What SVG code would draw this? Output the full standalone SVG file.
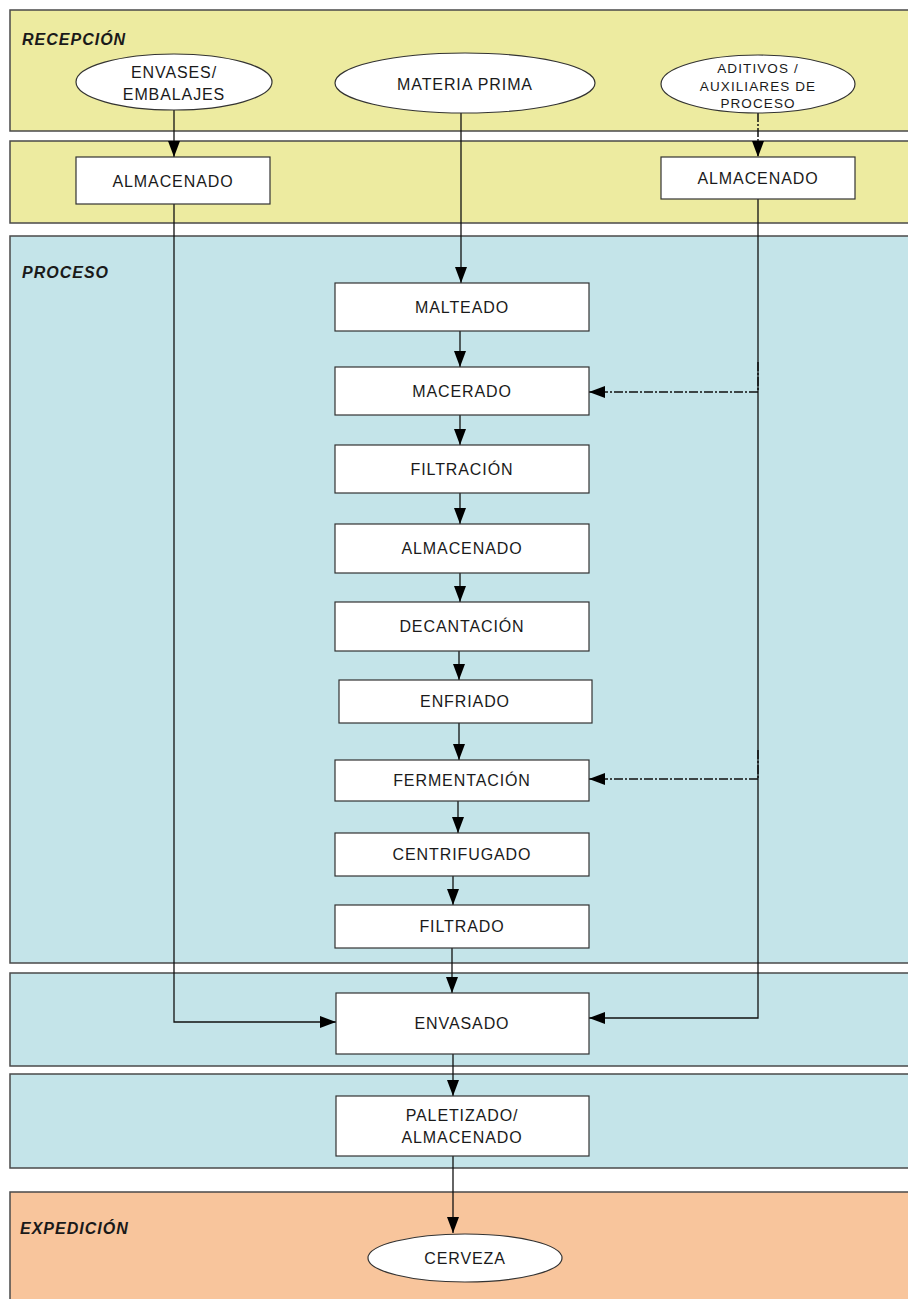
<svg xmlns="http://www.w3.org/2000/svg" width="908" height="1299" viewBox="0 0 908 1299">
<style>
.band{stroke:#4a4a4a;stroke-width:1.5}
.yel{fill:#edeba0}
.blu{fill:#c4e4e9}
.ora{fill:#f8c59c}
.sec{font-family:"Liberation Sans",Arial,sans-serif;font-size:16px;font-weight:bold;font-style:italic;letter-spacing:1px;fill:#1a1a1a}
.box{fill:#fff;stroke:#333;stroke-width:1.2}
.ell{fill:#fff;stroke:#333;stroke-width:1.2}
.t{font-family:"Liberation Sans",Arial,sans-serif;font-size:16px;letter-spacing:0.9px;fill:#1a1a1a;text-anchor:middle}
.ts{font-family:"Liberation Sans",Arial,sans-serif;font-size:13.5px;letter-spacing:1.1px;fill:#1a1a1a;text-anchor:middle}
.c{fill:none;stroke:#111;stroke-width:1.3}
.d{fill:none;stroke:#111;stroke-width:1.5;stroke-dasharray:9 2 2 2}
</style>
<defs>
<marker id="ah" markerUnits="userSpaceOnUse" markerWidth="16" markerHeight="12" refX="16" refY="6" orient="auto">
<path d="M0,0 L16,6 L0,12 z" fill="#000"/>
</marker>
</defs>
<rect width="908" height="1299" fill="#fff"/>
<g id="bands">
<rect class="band yel" x="10" y="10" width="905" height="121"/>
<rect class="band yel" x="10" y="141" width="905" height="82"/>
<rect class="band blu" x="10" y="236" width="905" height="727"/>
<rect class="band blu" x="10" y="973" width="905" height="93"/>
<rect class="band blu" x="10" y="1074" width="905" height="94"/>
<rect class="band ora" x="10" y="1192" width="905" height="120"/>
<text class="sec" x="22" y="45">RECEPCIÓN</text>
<text class="sec" x="22" y="278">PROCESO</text>
<text class="sec" x="20" y="1234">EXPEDICIÓN</text>
</g>
<g id="connectors">
<line class="c" x1="174" y1="110" x2="174" y2="157" marker-end="url(#ah)"/>
<line class="d" x1="758" y1="113" x2="758" y2="157" marker-end="url(#ah)"/>
<line class="c" x1="461" y1="113" x2="461" y2="283" marker-end="url(#ah)"/>
<line class="c" x1="460" y1="331" x2="460" y2="367" marker-end="url(#ah)"/>
<line class="c" x1="460" y1="415" x2="460" y2="445" marker-end="url(#ah)"/>
<line class="c" x1="460" y1="493" x2="460" y2="524" marker-end="url(#ah)"/>
<line class="c" x1="460" y1="573" x2="460" y2="602" marker-end="url(#ah)"/>
<line class="c" x1="459" y1="651" x2="459" y2="680" marker-end="url(#ah)"/>
<line class="c" x1="459" y1="723" x2="459" y2="760" marker-end="url(#ah)"/>
<line class="c" x1="458" y1="801" x2="458" y2="833" marker-end="url(#ah)"/>
<line class="c" x1="453" y1="876" x2="453" y2="905" marker-end="url(#ah)"/>
<line class="c" x1="452" y1="948" x2="452" y2="993" marker-end="url(#ah)"/>
<line class="c" x1="453" y1="1054" x2="453" y2="1096" marker-end="url(#ah)"/>
<line class="c" x1="453" y1="1156" x2="453" y2="1233" marker-end="url(#ah)"/>
<polyline class="c" points="174,204 174,1022 336,1022" marker-end="url(#ah)"/>
<polyline class="c" points="758,199 758,1018 589,1018" marker-end="url(#ah)"/>
<line class="d" x1="758" y1="392" x2="589" y2="392" marker-end="url(#ah)"/>
<line class="d" x1="758" y1="779" x2="589" y2="779" marker-end="url(#ah)"/>
<line class="d" x1="758" y1="362" x2="758" y2="392"/>
<line class="d" x1="758" y1="750" x2="758" y2="779"/>
</g>
<g id="n-envases"><ellipse class="ell" cx="174" cy="82" rx="98" ry="28"/><text class="t" x="174" y="78">ENVASES/</text><text class="t" x="174" y="100">EMBALAJES</text></g>
<g id="n-materia"><ellipse class="ell" cx="465" cy="83" rx="130" ry="30"/><text class="t" x="465" y="90">MATERIA PRIMA</text></g>
<g id="n-aditivos"><ellipse class="ell" cx="758" cy="84" rx="97" ry="29"/><text class="ts" x="758" y="73">ADITIVOS /</text><text class="ts" x="758" y="91">AUXILIARES DE</text><text class="ts" x="758" y="108">PROCESO</text></g>
<g id="n-alm1"><rect class="box" x="76" y="157" width="194" height="47"/><text class="t" x="173" y="187">ALMACENADO</text></g>
<g id="n-alm2"><rect class="box" x="661" y="157" width="194" height="42"/><text class="t" x="758" y="184">ALMACENADO</text></g>
<g id="n-malteado"><rect class="box" x="335" y="283" width="254" height="48"/><text class="t" x="462" y="313">MALTEADO</text></g>
<g id="n-macerado"><rect class="box" x="335" y="367" width="254" height="48"/><text class="t" x="462" y="397">MACERADO</text></g>
<g id="n-filtracion"><rect class="box" x="335" y="445" width="254" height="48"/><text class="t" x="462" y="475">FILTRACIÓN</text></g>
<g id="n-almacenado"><rect class="box" x="335" y="524" width="254" height="49"/><text class="t" x="462" y="554">ALMACENADO</text></g>
<g id="n-decantacion"><rect class="box" x="335" y="602" width="254" height="49"/><text class="t" x="462" y="632">DECANTACIÓN</text></g>
<g id="n-enfriado"><rect class="box" x="339" y="680" width="253" height="43"/><text class="t" x="465" y="707">ENFRIADO</text></g>
<g id="n-fermentacion"><rect class="box" x="335" y="760" width="254" height="41"/><text class="t" x="462" y="786">FERMENTACIÓN</text></g>
<g id="n-centrifugado"><rect class="box" x="335" y="833" width="254" height="43"/><text class="t" x="462" y="860">CENTRIFUGADO</text></g>
<g id="n-filtrado"><rect class="box" x="335" y="905" width="254" height="43"/><text class="t" x="462" y="932">FILTRADO</text></g>
<g id="n-envasado"><rect class="box" x="336" y="993" width="253" height="61"/><text class="t" x="462" y="1029">ENVASADO</text></g>
<g id="n-paletizado"><rect class="box" x="336" y="1096" width="253" height="60"/><text class="t" x="462" y="1121">PALETIZADO/</text><text class="t" x="462" y="1143">ALMACENADO</text></g>
<g id="n-cerveza"><ellipse class="ell" cx="465" cy="1258" rx="97" ry="24"/><text class="t" x="465" y="1264">CERVEZA</text></g>
</svg>
